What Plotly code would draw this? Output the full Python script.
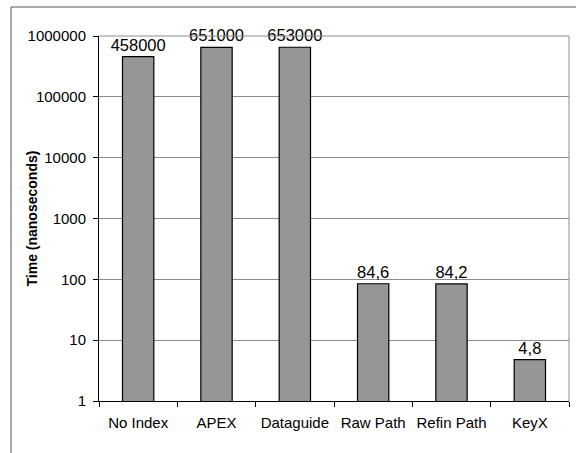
import plotly.graph_objects as go

categories = ["No Index", "APEX", "Dataguide", "Raw Path", "Refin Path", "KeyX"]
times_ns = [458000, 651000, 653000, 84.6, 84.2, 4.8]
y_ticks = [1, 10, 100, 1000, 10000, 100000, 1000000]

W, H = 576, 453
M_L, M_R, M_T, M_B = 99, 7, 36, 52
PW, PH = W - M_L - M_R, H - M_T - M_B


def px_x(x):
    return (x - M_L) / PW


def px_y(y):
    return (H - M_B - y) / PH


labels = [f"{v:g}".replace(".", ",") for v in times_ns]

fig = go.Figure(go.Bar(
    x=categories, y=times_ns,
    marker=dict(color="#969696", line=dict(color="black", width=1.2)),
    text=labels, textposition="outside", cliponaxis=False,
    constraintext="none",
    textfont=dict(size=16.5, color="black"),
    width=0.4,
))

fig.update_layout(
    width=W, height=H,
    margin=dict(l=M_L, r=M_R, t=M_T, b=M_B, autoexpand=False),
    paper_bgcolor="white", plot_bgcolor="white",
    font=dict(family="Liberation Sans, Arial, sans-serif", size=15, color="black"),
    showlegend=False,
    xaxis=dict(
        showline=True, linecolor="black", linewidth=1,
        ticks="outside", tickson="boundaries", ticklen=5, tickcolor="black",
        tickangle=0, showgrid=False, ticklabelstandoff=8,
    ),
    yaxis=dict(
        type="log", range=[0, 6],
        tickvals=y_ticks, ticktext=[str(v) for v in y_ticks],
        showline=True, linecolor="black", linewidth=1,
        ticks="outside", ticklen=5, tickcolor="black",
        showgrid=True, gridcolor="#8c8c8c", gridwidth=1,
        zeroline=False, ticklabelstandoff=4,
    ),
    annotations=[dict(
        text="<b>Time (nanoseconds)</b>", textangle=-90,
        xref="paper", yref="paper", x=px_x(31), y=0.5,
        xanchor="center", yanchor="middle", showarrow=False,
        font=dict(size=14, color="black"),
    )],
    shapes=[
        # plot area frame (top and right)
        dict(type="line", xref="paper", yref="paper", x0=0, x1=1, y0=1, y1=1,
             line=dict(color="#8c8c8c", width=1)),
        dict(type="line", xref="paper", yref="paper", x0=1, x1=1, y0=0, y1=1,
             line=dict(color="#8c8c8c", width=1)),
        # chart area border
        dict(type="line", xref="paper", yref="paper",
             x0=px_x(11), x1=px_x(11), y0=px_y(7), y1=px_y(H),
             line=dict(color="#555555", width=1)),
        dict(type="line", xref="paper", yref="paper",
             x0=px_x(11), x1=px_x(W), y0=px_y(7), y1=px_y(7),
             line=dict(color="#555555", width=1)),
    ],
)

# drop the default page margin so the figure sits at (0, 0)
fig.write_html("out.html", config={"displayModeBar": False},
               post_script="document.body.style.margin='0';")
